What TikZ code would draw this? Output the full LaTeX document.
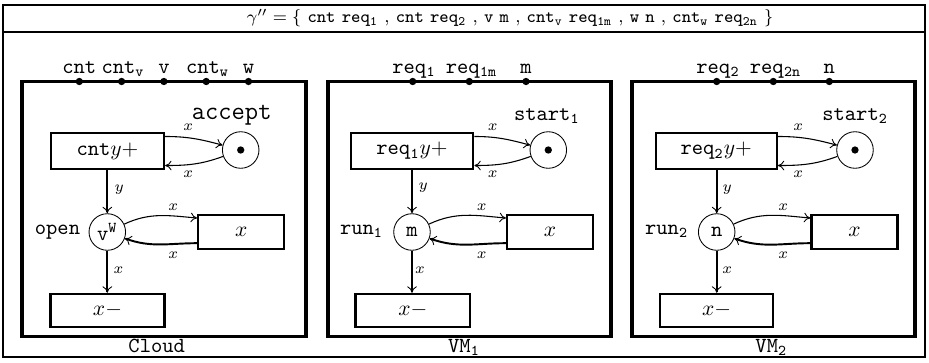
\documentclass[tikz,border=0pt]{standalone}
\usetikzlibrary{arrows.meta}
\begin{document}
\begin{tikzpicture}[x=0.4651pt,y=-0.4651pt,
  panel/.style={draw,line width=1.4pt},
  tbox/.style={draw,line width=1pt,minimum height=16.5pt,inner sep=0pt},
  rbox/.style={draw,line width=1pt,minimum width=40pt,minimum height=16pt,inner sep=0pt},
  place/.style={circle,draw,line width=0.4pt,minimum size=17pt,inner sep=0pt},
  port/.style={circle,fill,inner sep=0pt,minimum size=3.4pt},
  tok/.style={circle,fill,inner sep=0pt,minimum size=3.4pt},
  plab/.style={anchor=base,inner sep=0pt},
  pname/.style={anchor=base east,inner sep=0pt},
  arc/.style={-{To[length=3pt,width=4.5pt,line width=0.4pt]},line width=0.5pt},
  barc/.style={arc,line width=0.9pt},
  elab/.style={font=\scriptsize,inner sep=0pt},
]
\useasboundingbox (0,0) rectangle (929,362);
\draw[line width=0.7pt] (3,5) rectangle (925,357);
\draw[line width=1pt] (3,32) -- (925,32);
\node[inner sep=0pt,font=\fontsize{8.2}{10}\selectfont] (title) at (510,18.5) {$\gamma'' = \{$ \texttt{cnt} \texttt{req}$_{\mathtt{1}}$ , \texttt{cnt} \texttt{req}$_{\mathtt{2}}$ , \texttt{v} \texttt{m} , \texttt{cnt}$_{\mathtt{v}}$ \texttt{req}$_{\mathtt{1m}}$ , \texttt{w} \texttt{n} , \texttt{cnt}$_{\mathtt{w}}$ \texttt{req}$_{\mathtt{2n}}$ $\}$};

% ---------------- Cloud ----------------
\draw[panel] (22,81.5) rectangle (306,336);
\node[port] (p11) at (79.3,81.5) {};
\node[port] (p12) at (121.6,81.5) {};
\node[port] (p13) at (163.9,81.5) {};
\node[port] (p14) at (206.2,81.5) {};
\node[port] (p15) at (248.5,81.5) {};
\node[plab] (l11) at (79.3,73) {\texttt{cnt}};
\node[plab] (l12) at (123,73) {\texttt{cnt}$_{\mathtt{v}}$};
\node[plab] (l13) at (163.9,73) {\texttt{v}};
\node[plab] (l14) at (207.5,73) {\texttt{cnt}$_{\mathtt{w}}$};
\node[plab] (l15) at (248.5,73) {\texttt{w}};
\node[tbox,minimum width=52.6pt] (t1) at (107.5,151) {\texttt{cnt}$y+$};
\node[place] (a1) at (240.7,150) {};
\node[tok] (a1d) at (a1) {};
\node[pname] (la1) at (272,119) {\large\texttt{accept}};
\draw[arc] ([yshift=-2pt]t1.north east) to[out=0,in=165] (a1.165);
\draw[arc] (a1.200) to[out=200,in=0] ([yshift=2pt]t1.south east);
\node[elab] (x11) at (188.3,127) {$x$};
\node[elab] (x12) at (188.3,174) {$x$};
\node[place] (o1) at (107.3,232) {$\mathtt{v}^{\mathtt{W}}$};
\node[pname] (lo1) at (80.5,234) {\texttt{open}};
\node[rbox] (r1) at (241.2,232) {$x$};
\draw[arc] (o1.25) to[out=25,in=175] ([yshift=-2pt]r1.north west);
\draw[barc] ([yshift=3.3pt]r1.south west) to[out=180,in=-20] (o1.-20);
\node[elab] (x13) at (173.3,207) {$x$};
\node[elab] (x14) at (173.3,255) {$x$};
\node[tbox,minimum width=53pt,minimum height=15.5pt] (b1) at (107.5,310.5) {$x-$};
\draw[barc] (t1.south -| o1) -- (o1.north);
\draw[barc] (o1.south) -- (b1.north -| o1);
\node[elab] (y1) at (119.3,190) {$y$};
\node[elab] (x15) at (118.5,270) {$x$};
\node[plab] (n1) at (156.7,352) {\texttt{Cloud}};

% ---------------- VM1 ----------------
\draw[panel] (328,81.5) rectangle (611,336);
\node[port] (p21) at (412.7,81.5) {};
\node[port] (p22) at (469.3,81.5) {};
\node[port] (p23) at (526,81.5) {};
\node[plab] (l21) at (414,73) {\texttt{req}$_{\mathtt{1}}$};
\node[plab] (l22) at (471.5,73) {\texttt{req}$_{\mathtt{1m}}$};
\node[plab] (l23) at (526,73) {\texttt{m}};
\node[tbox,minimum width=57pt] (t2) at (412,151) {\texttt{req}$_{\mathtt{1}}y+$};
\node[place] (a2) at (548.3,150) {};
\node[tok] (a2d) at (a2) {};
\node[pname] (la2) at (580,120) {\texttt{start}$_{\mathtt{1}}$};
\draw[arc] ([yshift=-2pt]t2.north east) to[out=0,in=165] (a2.165);
\draw[arc] (a2.200) to[out=200,in=0] ([yshift=2pt]t2.south east);
\node[elab] (x21) at (492.7,127) {$x$};
\node[elab] (x22) at (492.7,174) {$x$};
\node[place] (o2) at (412,232) {\texttt{m}};
\node[pname] (lo2) at (383.5,234) {\texttt{run}$_{\mathtt{1}}$};
\node[rbox] (r2) at (550,232) {$x$};
\draw[arc] (o2.25) to[out=25,in=175] ([yshift=-2pt]r2.north west);
\draw[barc] ([yshift=3.3pt]r2.south west) to[out=180,in=-20] (o2.-20);
\node[elab] (x23) at (481.7,207) {$x$};
\node[elab] (x24) at (481.7,255) {$x$};
\node[tbox,minimum width=53.3pt,minimum height=15.5pt] (b2) at (412.8,310.5) {$x-$};
\draw[barc] (t2.south -| o2) -- (o2.north);
\draw[barc] (o2.south) -- (b2.north -| o2);
\node[elab] (y2) at (423.3,188) {$y$};
\node[elab] (x25) at (420,270) {$x$};
\node[plab] (n2) at (464,352) {\texttt{VM}$_{\mathtt{1}}$};

% ---------------- VM2 ----------------
\draw[panel] (632,81.5) rectangle (915,336);
\node[port] (p31) at (716.7,81.5) {};
\node[port] (p32) at (773.3,81.5) {};
\node[port] (p33) at (829.3,81.5) {};
\node[plab] (l31) at (718,73) {\texttt{req}$_{\mathtt{2}}$};
\node[plab] (l32) at (775.5,73) {\texttt{req}$_{\mathtt{2n}}$};
\node[plab] (l33) at (829.3,73) {\texttt{n}};
\node[tbox,minimum width=56.3pt] (t3) at (716.2,151) {\texttt{req}$_{\mathtt{2}}y+$};
\node[place] (a3) at (855,150) {};
\node[tok] (a3d) at (a3) {};
\node[pname] (la3) at (888.3,120) {\texttt{start}$_{\mathtt{2}}$};
\draw[arc] ([yshift=-2pt]t3.north east) to[out=0,in=165] (a3.165);
\draw[arc] (a3.200) to[out=200,in=0] ([yshift=2pt]t3.south east);
\node[elab] (x31) at (798.3,127) {$x$};
\node[elab] (x32) at (798.3,174) {$x$};
\node[place] (o3) at (716.7,232) {\texttt{n}};
\node[pname] (lo3) at (688.5,234) {\texttt{run}$_{\mathtt{2}}$};
\node[rbox] (r3) at (854.5,232) {$x$};
\draw[arc] (o3.25) to[out=25,in=175] ([yshift=-2pt]r3.north west);
\draw[barc] ([yshift=3.3pt]r3.south west) to[out=180,in=-20] (o3.-20);
\node[elab] (x33) at (783.3,207) {$x$};
\node[elab] (x34) at (783.3,255) {$x$};
\node[tbox,minimum width=52.7pt,minimum height=15.5pt] (b3) at (716.7,310.5) {$x-$};
\draw[barc] (t3.south -| o3) -- (o3.north);
\draw[barc] (o3.south) -- (b3.north -| o3);
\node[elab] (y3) at (727.3,190) {$y$};
\node[elab] (x35) at (727.3,270) {$x$};
\node[plab] (n3) at (771.3,352) {\texttt{VM}$_{\mathtt{2}}$};
\end{tikzpicture}
\end{document}
